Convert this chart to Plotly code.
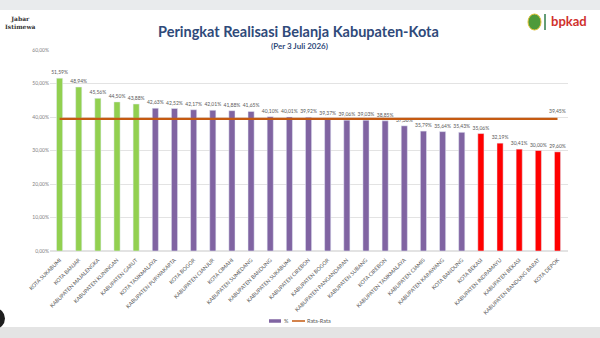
import plotly.graph_objects as go

categories = [
    "KOTA SUKABUMI", "KOTA BANJAR", "KABUPATEN MAJALENGKA", "KABUPATEN KUNINGAN",
    "KABUPATEN GARUT", "KOTA TASIKMALAYA", "KABUPATEN PURWAKARTA", "KOTA BOGOR",
    "KABUPATEN CIANJUR", "KOTA CIMAHI", "KABUPATEN SUMEDANG", "KABUPATEN BANDUNG",
    "KABUPATEN SUKABUMI", "KABUPATEN CIREBON", "KABUPATEN BOGOR", "KABUPATEN PANGANDARAN",
    "KABUPATEN SUBANG", "KOTA CIREBON", "KABUPATEN TASIKMALAYA", "KABUPATEN CIAMIS",
    "KABUPATEN KARAWANG", "KOTA BANDUNG", "KOTA BEKASI", "KABUPATEN INDRAMAYU",
    "KABUPATEN BEKASI", "KABUPATEN BANDUNG BARAT", "KOTA DEPOK",
]
values = [
    51.59, 48.94, 45.56, 44.50, 43.88, 42.63, 42.52, 42.17, 42.01, 41.88, 41.65,
    40.10, 40.01, 39.92, 39.37, 39.06, 39.03, 38.85, 37.36, 35.79, 35.64, 35.43,
    35.06, 32.19, 30.41, 30.00, 29.60,
]
groups = ["top"] * 5 + ["mid"] * 17 + ["low"] * 5
average = 39.45
y_ticks = [0, 10, 20, 30, 40, 50, 60]
y_tick_labels = ["0,00%", "10,00%", "20,00%", "30,00%", "40,00%", "50,00%", "60,00%"]
legend_names = ["%", "Rata-Rata"]

color_map = {"top": "#92D050", "mid": "#8064A2", "low": "#FF0000"}
bar_colors = [color_map[g] for g in groups]
avg_color = "#C55A11"


def fmt(v):
    return f"{v:.2f}".replace(".", ",") + "%"


fig = go.Figure()
fig.add_trace(go.Bar(
    x=categories, y=values, marker_color=bar_colors, width=0.32,
    text=[fmt(v) for v in values], textposition="outside",
    textfont=dict(size=5, color="#595959", family="Lato"),
    constraintext="none", cliponaxis=False, showlegend=False, name=legend_names[0],
))
fig.add_trace(go.Scatter(
    x=categories, y=[average] * len(categories), mode="lines",
    line=dict(color=avg_color, width=2.2), name=legend_names[1], showlegend=False,
))

fig.add_annotation(x=categories[-1], y=average, text=fmt(average), showarrow=False,
                   yshift=8, font=dict(size=5, color="#595959", family="Lato"))


def px_x(p):
    return (p - 50) / 518


def px_y(p):
    return (251 - p) / 201


# title
fig.add_annotation(xref="paper", yref="paper", x=px_x(298), y=px_y(32),
                   text="<b>Peringkat Realisasi Belanja Kabupaten-Kota</b>", showarrow=False,
                   font=dict(size=14.5, color="#2F4A7A", family="Lato"), yanchor="middle")
fig.add_annotation(xref="paper", yref="paper", x=px_x(299), y=px_y(45.7),
                   text="<b>(Per 3 Juli 2026)</b>", showarrow=False,
                   font=dict(size=8, color="#2F4A7A", family="Lato"), yanchor="middle")

# logos as text
fig.add_annotation(xref="paper", yref="paper", x=px_x(3), y=px_y(22.5),
                   text="<b>Jabar</b><br><b>Istimewa</b>", showarrow=False, xanchor="left", align="center",
                   font=dict(size=6, color="#333333", family="DejaVu Serif"), yanchor="middle")
fig.add_annotation(xref="paper", yref="paper", x=px_x(549), y=px_y(21),
                   text="<b>bpkad</b>", showarrow=False, xanchor="left",
                   font=dict(size=13, color="#D0312D", family="Lato"), yanchor="middle")

# manual legend text
fig.add_annotation(xref="paper", yref="paper", x=px_x(282), y=px_y(321),
                   text=legend_names[0], showarrow=False, xanchor="left", yanchor="middle",
                   font=dict(size=5.5, color="#595959", family="Lato"))
fig.add_annotation(xref="paper", yref="paper", x=px_x(305), y=px_y(321),
                   text=legend_names[1], showarrow=False, xanchor="left", yanchor="middle",
                   font=dict(size=5.5, color="#595959", family="Lato"))

shapes = [
    dict(type="rect", xref="paper", yref="paper", x0=px_x(-5), x1=px_x(605), y0=px_y(10), y1=px_y(-5),
         fillcolor="#E9EBED", line=dict(width=0), layer="below"),
    dict(type="rect", xref="paper", yref="paper", x0=px_x(-5), x1=px_x(605), y0=px_y(343), y1=px_y(327),
         fillcolor="#E4E4E4", line=dict(width=0), layer="below"),
    dict(type="circle", xref="paper", yref="paper", x0=px_x(-16), x1=px_x(5), y0=px_y(329), y1=px_y(308),
         fillcolor="#1E1E1E", line=dict(width=0)),
    dict(type="circle", xref="paper", yref="paper", x0=px_x(528), x1=px_x(541), y0=px_y(30), y1=px_y(14),
         fillcolor="#4E9A3A", line=dict(color="#E0C23A", width=1)),
    dict(type="line", xref="paper", yref="paper", x0=px_x(545), x1=px_x(545), y0=px_y(30), y1=px_y(14),
         line=dict(color="#2F7D4A", width=1.5)),
    # legend swatches
    dict(type="line", xref="paper", yref="paper", x0=px_x(269), x1=px_x(281), y0=px_y(321), y1=px_y(321),
         line=dict(color=color_map["mid"], width=3.5)),
    dict(type="line", xref="paper", yref="paper", x0=px_x(292), x1=px_x(305), y0=px_y(321), y1=px_y(321),
         line=dict(color=avg_color, width=1.5)),
]

fig.update_layout(
    width=600, height=338, margin=dict(l=50, r=32, t=50, b=87),
    paper_bgcolor="white", plot_bgcolor="white", barmode="overlay",
    shapes=shapes, showlegend=False,
    xaxis=dict(tickangle=-45, tickfont=dict(size=5.3, color="#595959", family="Lato"),
               showgrid=False, showline=False, ticks="outside", ticklen=3, tickcolor="rgba(0,0,0,0)"),
    yaxis=dict(range=[0, 60], tickvals=y_ticks, ticktext=y_tick_labels,
               tickfont=dict(size=5, color="#7F7F7F", family="Lato"),
               gridcolor="#E3E3E3", gridwidth=1, zeroline=True, zerolinecolor="#E3E3E3",
               showline=False, ticks="", ticklen=0),
    font=dict(family="Lato"),
)

fig.write_html("out.html")
